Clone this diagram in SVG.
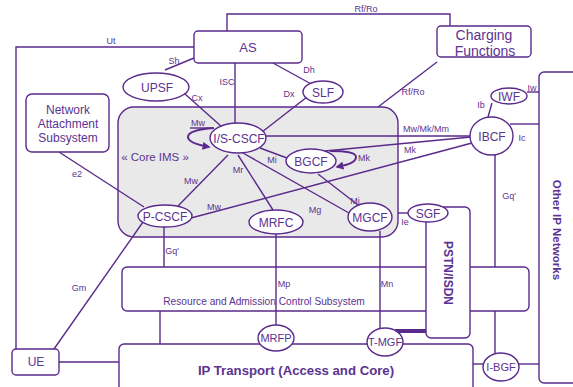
<svg xmlns="http://www.w3.org/2000/svg" width="573" height="387" viewBox="0 0 573 387">
<style>
.ln{stroke:#5a2a8c;stroke-width:1.4;fill:none}
.bx{stroke:#5a2a8c;stroke-width:1.4;fill:#fff}
.el{stroke:#5a2a8c;stroke-width:1.4;fill:#fff}
.t{font-family:"Liberation Sans",Arial,sans-serif;fill:#5c3391;text-anchor:middle}
.n{font-size:12px}
.s{font-size:9px}
.b{font-weight:bold}
</style>
<defs>
<marker id="ah" viewBox="0 0 10 10" refX="8" refY="5" markerWidth="4" markerHeight="4" orient="auto">
<path d="M0,0 L10,5 L0,10 z" fill="#5a2a8c"/>
</marker>
</defs>
<rect width="573" height="387" fill="#fff"/>

<g id="core-ims">
<rect x="118" y="107" width="280" height="130" rx="16" fill="#e9e9e9" stroke="#5a2a8c" stroke-width="1.4"/>
<text class="t" x="155" y="161" font-size="11.5">« Core IMS »</text>
</g>

<g id="racs">
<rect class="bx" x="122" y="267" width="407" height="44" rx="5"/>
<text class="t" x="264" y="305" font-size="10.2">Resource and Admission Control Subsystem</text>
</g>

<g id="connectors">
<polyline class="ln" points="227,31 227,14 450,14 450,26"/>
<polyline class="ln" points="194,47 16,47 16,349"/>
<line class="ln" x1="194" y1="58" x2="165" y2="70"/>
<line class="ln" x1="185" y1="94" x2="222" y2="127"/>
<line class="ln" x1="235" y1="63" x2="235" y2="124"/>
<line class="ln" x1="273" y1="63" x2="313" y2="85"/>
<line class="ln" x1="307" y1="97" x2="262" y2="132"/>
<line class="ln" x1="437" y1="62" x2="378" y2="107"/>
<line class="ln" x1="59" y1="152" x2="144" y2="207"/>
<line class="ln" x1="265" y1="136" x2="470" y2="136"/>
<line class="ln" x1="325" y1="151" x2="471" y2="137"/>
<line class="ln" x1="260" y1="148" x2="287" y2="158"/>
<line class="ln" x1="238" y1="155" x2="273" y2="210"/>
<line class="ln" x1="243" y1="153" x2="349" y2="213"/>
<line class="ln" x1="228" y1="155" x2="178" y2="206"/>
<line class="ln" x1="191" y1="218" x2="472" y2="143"/>
<line class="ln" x1="318" y1="174" x2="358" y2="205"/>
<line class="ln" x1="143" y1="222" x2="54" y2="349"/>
<line class="ln" x1="164" y1="227" x2="164" y2="267"/>
<line class="ln" x1="160" y1="311" x2="160" y2="344"/>
<line class="ln" x1="276" y1="234" x2="276" y2="325"/>
<line class="ln" x1="380" y1="231" x2="380" y2="329"/>
<line class="ln" x1="398" y1="213" x2="408" y2="213"/>
<line class="ln" x1="495" y1="155" x2="495" y2="267"/>
<line class="ln" x1="495" y1="311" x2="495" y2="353"/>
<line class="ln" x1="492" y1="103" x2="488" y2="117"/>
<line class="ln" x1="527" y1="92" x2="539" y2="92"/>
<line class="ln" x1="510" y1="124" x2="539" y2="124"/>
<line class="ln" x1="473" y1="364" x2="483" y2="364"/>
<line class="ln" x1="519" y1="364" x2="539" y2="364"/>
<line class="ln" x1="59" y1="362" x2="119" y2="362"/>
<line x1="395" y1="331" x2="426" y2="331" stroke="#5a2a8c" stroke-width="4"/>
<line class="ln" x1="190" y1="128" x2="212" y2="128" stroke-width="1"/>
<path d="M214,128 C200,129 188,131 188,137 C188,142 198,145 209,147" fill="none" stroke="#5a2a8c" stroke-width="2" marker-end="url(#ah)"/>
<path d="M330,151 C345,151 356,152 356,157 C356,163 346,165 337,167" fill="none" stroke="#5a2a8c" stroke-width="2" marker-end="url(#ah)"/>
</g>

<g id="labels">
<text class="t s" x="111" y="44">Ut</text>
<text class="t s" x="366" y="12">Rf/Ro</text>
<text class="t s" x="174" y="64">Sh</text>
<text class="t s" x="227" y="85">ISC</text>
<text class="t s" x="197" y="101">Cx</text>
<text class="t s" x="309" y="73">Dh</text>
<text class="t s" x="289" y="97">Dx</text>
<text class="t s" x="413" y="95">Rf/Ro</text>
<text class="t s" x="532" y="91">Iw</text>
<text class="t s" x="481" y="108">Ib</text>
<text class="t s" x="522" y="141">Ic</text>
<text class="t s" x="426" y="132">Mw/Mk/Mm</text>
<text class="t s" x="410" y="153">Mk</text>
<text class="t s" x="364" y="161">Mk</text>
<text class="t s" x="198" y="126">Mw</text>
<text class="t s" x="272" y="163">Mi</text>
<text class="t s" x="238" y="173">Mr</text>
<text class="t s" x="191" y="184">Mw</text>
<text class="t s" x="214" y="210">Mw</text>
<text class="t s" x="315" y="213">Mg</text>
<text class="t s" x="355" y="204">Mj</text>
<text class="t s" x="405" y="225">Ie</text>
<text class="t s" x="509" y="199">Gq'</text>
<text class="t s" x="172" y="254">Gq'</text>
<text class="t s" x="77" y="177">e2</text>
<text class="t s" x="79" y="291">Gm</text>
<text class="t s" x="284" y="287">Mp</text>
<text class="t s" x="387" y="287">Mn</text>
</g>

<g id="as">
<rect class="bx" x="194" y="31" width="108" height="32" rx="4"/>
<text class="t" x="248" y="52" font-size="13">AS</text>
</g>
<g id="charging">
<rect class="bx" x="437" y="26" width="94" height="31" rx="4"/>
<text class="t" x="484" y="40" font-size="14">Charging</text>
<text class="t" x="485" y="56" font-size="14">Functions</text>
</g>
<g id="nass">
<rect class="bx" x="26" y="94" width="83" height="58" rx="6"/>
<text class="t n" x="68" y="114">Network</text>
<text class="t n" x="68" y="128">Attachment</text>
<text class="t n" x="68" y="142">Subsystem</text>
</g>
<g id="upsf">
<ellipse class="el" cx="156" cy="87" rx="33" ry="14"/>
<text class="t n" x="157" y="91.5">UPSF</text>
</g>
<g id="slf">
<ellipse class="el" cx="323" cy="92" rx="20" ry="11"/>
<text class="t n" x="323" y="96.5">SLF</text>
</g>
<g id="iwf">
<ellipse class="el" cx="509" cy="96" rx="18" ry="8"/>
<text class="t n" x="509" y="100.5">IWF</text>
</g>
<g id="is-cscf">
<ellipse class="el" cx="238" cy="138" rx="28" ry="15"/>
<text class="t n" x="239" y="142.5">I/S-CSCF</text>
</g>
<g id="bgcf">
<ellipse class="el" cx="311" cy="161" rx="25" ry="12"/>
<text class="t n" x="311" y="165.5">BGCF</text>
</g>
<g id="ibcf">
<ellipse class="el" cx="491.5" cy="136" rx="21.5" ry="19"/>
<text class="t n" x="492" y="140.5">IBCF</text>
</g>
<g id="p-cscf">
<ellipse class="el" cx="165" cy="216" rx="27" ry="11"/>
<text class="t n" x="165" y="220.5">P-CSCF</text>
</g>
<g id="mrfc">
<ellipse class="el" cx="276" cy="222" rx="27" ry="12"/>
<text class="t n" x="276" y="226.5">MRFC</text>
</g>
<g id="mgcf">
<ellipse class="el" cx="370" cy="217" rx="22" ry="14"/>
<text class="t n" x="370" y="221.5">MGCF</text>
</g>
<g id="pstn">
<rect class="bx" x="426" y="207" width="44" height="131" rx="5"/>
<text class="t b" font-size="12" transform="translate(444,273) rotate(90)">PSTN/ISDN</text>
</g>
<g id="sgf">
<ellipse class="el" cx="428" cy="213" rx="20" ry="9"/>
<text class="t n" x="428" y="217.5">SGF</text>
</g>
<g id="other-ip">
<rect class="bx" x="539" y="72" width="50" height="311" rx="5"/>
<text class="t b" font-size="11.6" transform="translate(553,230) rotate(90)">Other IP Networks</text>
</g>
<g id="ip-transport">
<rect class="bx" x="119" y="344" width="354" height="60" rx="5"/>
<text class="t b" x="296" y="375" font-size="13.2">IP Transport (Access and Core)</text>
</g>
<g id="ue">
<rect class="bx" x="12" y="349" width="47" height="26" rx="4"/>
<text class="t n" x="36" y="366">UE</text>
</g>
<g id="mrfp">
<ellipse class="el" cx="276" cy="338" rx="18" ry="13"/>
<text class="t" x="276" y="342" font-size="11">MRFP</text>
</g>
<g id="t-mgf">
<ellipse class="el" cx="385" cy="342" rx="18" ry="14"/>
<text class="t" x="385" y="346" font-size="11">T-MGF</text>
</g>
<g id="i-bgf">
<ellipse class="el" cx="501" cy="367" rx="18" ry="14"/>
<text class="t" x="501" y="371" font-size="11">I-BGF</text>
</g>
</svg>
